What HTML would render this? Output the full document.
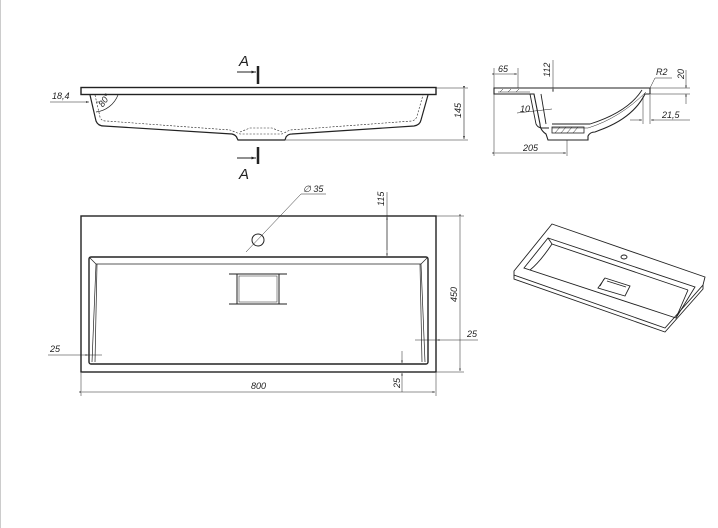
<!DOCTYPE html>
<html><head><meta charset="utf-8"><style>
html,body{margin:0;padding:0;background:#fff;}
svg{display:block;}
text{font-family:"Liberation Sans",sans-serif;font-style:italic;font-size:9px;fill:#222;}
</style></head><body>
<svg width="718" height="528" viewBox="0 0 718 528" xmlns="http://www.w3.org/2000/svg">
<defs>
<marker id="ar" markerWidth="6" markerHeight="6" refX="5" refY="3" orient="auto"><path d="M0,1.5 L5,3 L0,4.5z" fill="#222"/></marker>
</defs>
<line x1="0.5" y1="0" x2="0.5" y2="528" stroke="#ccc" stroke-width="1"/>
<g fill="none" stroke="#222">
<!-- FRONT VIEW -->
<rect x="81" y="87.5" width="355" height="7" stroke-width="1.4"/>
<path d="M90,95 L96,121 Q98,126 104,126 L232,134 Q236,135 237,138 L238,140 L285,140 L286,137 Q288,134 292,134 L414,126 Q420,125 421,120 L428,95" stroke-width="1.2"/>
<path d="M95,95 L100,117 Q101,121 106,121 L230,130 L240,134 L282,134 L290,130 L412,121 Q416,120 417,116 L423,95" stroke-width="0.6" stroke-dasharray="2,1.5"/>
<path d="M240,132 L250,128 L272,128 L282,132" stroke-width="0.6" stroke-dasharray="2,1.5"/>
<path d="M118,95 A27,27 0 0 1 96,112" stroke-width="0.7"/>
<line x1="50" y1="102" x2="89" y2="102" stroke-width="0.6" marker-end="url(#ar)"/>
<line x1="100" y1="102" x2="96" y2="102" stroke-width="0.6"/>
<line x1="436" y1="88" x2="468" y2="88" stroke-width="0.5"/>
<line x1="286" y1="140" x2="468" y2="140" stroke-width="0.5"/>
<line x1="464" y1="89" x2="464" y2="139" stroke-width="0.6" marker-end="url(#ar)" marker-start="url(#ar)"/>
<line x1="258" y1="66" x2="258" y2="84" stroke-width="2.5"/>
<line x1="237" y1="72" x2="256" y2="72" stroke-width="0.9" marker-end="url(#ar)"/>
<line x1="258" y1="147" x2="258" y2="164" stroke-width="2.5"/>
<line x1="237" y1="158" x2="256" y2="158" stroke-width="0.9" marker-end="url(#ar)"/>

<!-- SIDE SECTION -->
<path d="M494,88 L650,88 L650,94 L645,94 Q633,118 600,130 L595,132 Q590,132 588,136 L588,140 L548,140 L546,134 Q540,130 540,124 L534,94 L494,94 Z" stroke-width="1.1"/>
<path d="M530,94 L536,124 Q538,128 542,128 L549,128 M546,124 L541,94 M552,124 L590,124 Q628,112 642,90" stroke-width="0.9"/>
<path d="M498,92 L530,92 M552,128 L588,128 Q620,118 646,92" stroke-width="0.5"/>
<rect x="552" y="127" width="32" height="6" stroke-width="0.8"/>
<path d="M555,133 L560,127 M561,133 L566,127 M567,133 L572,127 M573,133 L578,127 M500,92 L503,89 M508,92 L511,89 M516,92 L519,89" stroke-width="0.5"/>
<line x1="494" y1="68" x2="494" y2="156" stroke-width="0.5"/>
<line x1="518" y1="68" x2="518" y2="88" stroke-width="0.5"/>
<line x1="495" y1="74" x2="517" y2="74" stroke-width="0.5" marker-end="url(#ar)" marker-start="url(#ar)"/>
<line x1="567" y1="140" x2="567" y2="156" stroke-width="0.5"/>
<line x1="495" y1="153" x2="566" y2="153" stroke-width="0.5" marker-end="url(#ar)" marker-start="url(#ar)"/>
<line x1="553" y1="60" x2="553" y2="92" stroke-width="0.5" marker-end="url(#ar)"/>
<line x1="517" y1="113" x2="552" y2="109" stroke-width="0.5"/>
<line x1="649" y1="88" x2="690" y2="88" stroke-width="0.5"/>
<line x1="649" y1="94" x2="690" y2="94" stroke-width="0.5"/>
<line x1="686" y1="70" x2="686" y2="88" stroke-width="0.5" marker-end="url(#ar)"/>
<line x1="686" y1="104" x2="686" y2="94" stroke-width="0.5" marker-end="url(#ar)"/>
<line x1="650" y1="95" x2="650" y2="124" stroke-width="0.5"/>
<line x1="643" y1="96" x2="643" y2="124" stroke-width="0.5"/>
<line x1="630" y1="120" x2="642" y2="120" stroke-width="0.5" marker-end="url(#ar)"/>
<line x1="690" y1="120" x2="651" y2="120" stroke-width="0.5" marker-end="url(#ar)"/>
<line x1="655" y1="78" x2="650" y2="88" stroke-width="0.5"/>
<line x1="655" y1="78" x2="672" y2="78" stroke-width="0.5"/>

<!-- PLAN VIEW -->
<rect x="81" y="216" width="355" height="156" stroke-width="1.4"/>
<rect x="89" y="257" width="339" height="107" stroke-width="1.4" rx="2"/>
<path d="M89,257 L96,264 L421,264 L428,257 M96,264 L92,362 M421,264 L425,362 M97,264 L95,362 M420,264 L422,362" stroke-width="0.7"/>
<line x1="229" y1="274" x2="287" y2="274" stroke-width="1"/>
<line x1="229" y1="304" x2="287" y2="304" stroke-width="1"/>
<rect x="237" y="274" width="42" height="30" stroke-width="1"/>
<rect x="239" y="276" width="38" height="26" stroke-width="0.5"/>
<circle cx="258" cy="240" r="6" stroke-width="1"/>
<line x1="246" y1="252" x2="301" y2="194" stroke-width="0.5"/>
<line x1="301" y1="194" x2="326" y2="194" stroke-width="0.5"/>
<line x1="387" y1="192" x2="387" y2="256" stroke-width="0.5" marker-end="url(#ar)"/>
<line x1="387" y1="250" x2="387" y2="217" stroke-width="0.5" marker-end="url(#ar)"/>
<line x1="436" y1="216" x2="464" y2="216" stroke-width="0.5"/>
<line x1="436" y1="372" x2="464" y2="372" stroke-width="0.5"/>
<line x1="460" y1="217" x2="460" y2="371" stroke-width="0.5" marker-end="url(#ar)" marker-start="url(#ar)"/>
<line x1="81" y1="373" x2="81" y2="396" stroke-width="0.5"/>
<line x1="436" y1="373" x2="436" y2="396" stroke-width="0.5"/>
<line x1="82" y1="392" x2="435" y2="392" stroke-width="0.5" marker-end="url(#ar)" marker-start="url(#ar)"/>
<line x1="48" y1="355" x2="88" y2="355" stroke-width="0.5" marker-end="url(#ar)"/>
<line x1="88" y1="355" x2="102" y2="355" stroke-width="0.5"/>
<line x1="478" y1="340" x2="437" y2="340" stroke-width="0.5" marker-end="url(#ar)"/>
<line x1="415" y1="340" x2="437" y2="340" stroke-width="0.5"/>
<line x1="402" y1="351" x2="402" y2="363" stroke-width="0.5" marker-end="url(#ar)"/>
<line x1="402" y1="392" x2="402" y2="373" stroke-width="0.5" marker-end="url(#ar)"/>

<!-- ISO VIEW -->
<g stroke-width="0.9">
<path d="M552,224 L705,277 L703,285 L665,328 L514,275 L514,271 Z"/>
<path d="M514,275 L514,279 L665,332 L703,289 L703,285"/>
<path d="M548,238 L695,287 L676,318 L524,268 Z"/>
<path d="M548,238 L552,244 L688,290 M552,244 Q540,262 530,270 M688,290 L676,318"/>
<path d="M605,278 L630,286 L625,296 L598,288 Z M607,281 L626,287 M600,286 L604,279"/>
<ellipse cx="624" cy="257" rx="3" ry="2"/>
</g>
</g>
<g>
<text x="239" y="66" style="font-size:15px">A</text>
<text x="239" y="179" style="font-size:15px">A</text>
<text x="52" y="99">18,4</text>
<text x="100" y="106" transform="rotate(-55 103 104)">80°</text>
<text x="0" y="0" transform="translate(461,118) rotate(-90)">145</text>
<text x="498" y="72">65</text>
<text x="0" y="0" transform="translate(550,77) rotate(-90)">112</text>
<text x="520" y="112">10</text>
<text x="523" y="151">205</text>
<text x="656" y="75">R2</text>
<text x="0" y="0" transform="translate(684,79) rotate(-90)">20</text>
<text x="662" y="118">21,5</text>
<text x="303" y="192">∅ 35</text>
<text x="0" y="0" transform="translate(384,206) rotate(-90)">115</text>
<text x="0" y="0" transform="translate(457,302) rotate(-90)">450</text>
<text x="251" y="389">800</text>
<text x="50" y="352">25</text>
<text x="467" y="337">25</text>
<text x="0" y="0" transform="translate(400,388) rotate(-90)">25</text>
</g>
</svg>
</body></html>
